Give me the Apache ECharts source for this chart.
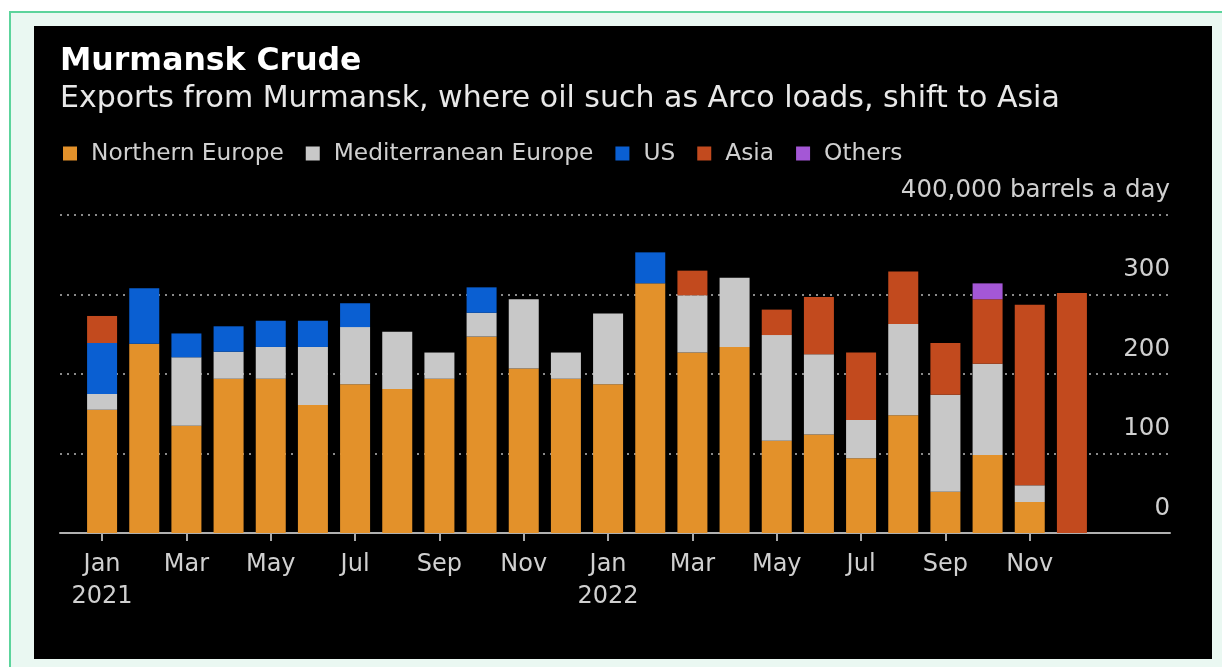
<!DOCTYPE html>
<html>
<head>
<meta charset="utf-8">
<script src="https://cdn.jsdelivr.net/npm/echarts@6/dist/echarts.min.js"></script>
<style>
  html, body { margin: 0; padding: 0; background: #ffffff; }
  .frame {
    position: absolute; left: 9px; top: 11px; width: 1211px; height: 654px;
    background: #eaf8f2; border-left: 2px solid #5cd49c; border-top: 2px solid #5cd49c;
  }
  #chart { position: absolute; left: 34px; top: 26px; width: 1178px; height: 633px; background: #000; }
</style>
</head>
<body>
<div class="frame"></div>
<div id="chart"></div>
<script>
const months = [
  'Jan\n2021', 'Feb', 'Mar', 'Apr', 'May', 'Jun', 'Jul', 'Aug', 'Sep', 'Oct', 'Nov', 'Dec',
  'Jan\n2022', 'Feb', 'Mar', 'Apr', 'May', 'Jun', 'Jul', 'Aug', 'Sep', 'Oct', 'Nov', 'Dec'
]
// thousand barrels a day
const northernEurope = [155, 238, 135, 194, 194, 161, 187, 181, 194, 247, 207, 194, 187, 314, 227, 234, 116, 124, 94, 148, 52, 98, 39, 0]
const medEurope = [20, 0, 86, 34, 40, 73, 72, 72, 33, 30, 87, 33, 89, 0, 72, 87, 133, 101, 48, 115, 122, 115, 21, 0]
const us = [64, 70, 30, 32, 33, 33, 30, 0, 0, 32, 0, 0, 0, 39, 0, 0, 0, 0, 0, 0, 0, 0, 0, 0]
const asia = [34, 0, 0, 0, 0, 0, 0, 0, 0, 0, 0, 0, 0, 0, 31, 0, 32, 72, 85, 66, 65, 81, 227, 302]
const others = [0, 0, 0, 0, 0, 0, 0, 0, 0, 0, 0, 0, 0, 0, 0, 0, 0, 0, 0, 0, 0, 20, 0, 0]
const yTicks = [0, 100, 200, 300, 400]

const font = 'DejaVu Sans'
const colors = {
  'Northern Europe': '#e3912a',
  'Mediterranean Europe': '#c8c8c8',
  'US': '#0a5fd2',
  'Asia': '#c24a1e',
  'Others': '#a457d6'
}

const chart = echarts.init(document.getElementById('chart'))

function barSeries(name, data) {
  return {
    name,
    type: 'bar',
    stack: 'total',
    xAxisIndex: 0,
    yAxisIndex: 0,
    barWidth: 30,
    data: data.map((v) => (v === 0 ? '-' : v)),
    itemStyle: { color: colors[name] }
  }
}

const option = {
  backgroundColor: '#000',
  animation: false,
  title: [
    {
      text: 'Murmansk Crude',
      left: 26, top: 20, padding: 0,
      textStyle: { fontFamily: font, fontSize: 31.5, fontWeight: 'bold', color: '#ffffff' }
    },
    {
      text: 'Exports from Murmansk, where oil such as Arco loads, shift to Asia',
      left: 26, top: 58, padding: 0,
      textStyle: { fontFamily: font, fontSize: 30, fontWeight: 'normal', color: '#e8e8e8' }
    }
  ],
  legend: {
    left: 29, top: 116, padding: 0,
    icon: 'rect', itemWidth: 14, itemHeight: 14, itemGap: 22,
    textStyle: { fontFamily: font, fontSize: 23.3, color: '#d0d0d0', padding: [0, 0, 0, 9] },
    data: Object.keys(colors)
  },
  grid: [
    { left: 47, right: 119, top: 189, bottom: 126 },
    { left: 26, right: 42, top: 189, bottom: 126 }
  ],
  xAxis: [
    {
      type: 'category', gridIndex: 0, data: months,
      axisLine: { show: false },
      axisTick: { show: true, alignWithLabel: true, interval: 1, length: 8, lineStyle: { color: '#aaaaaa', width: 2 } },
      axisLabel: { interval: 1, margin: 16, fontFamily: font, fontSize: 24, lineHeight: 32, color: '#d0d0d0' }
    },
    {
      type: 'value', gridIndex: 1, min: 0, max: 1,
      axisLine: { show: true, lineStyle: { color: '#b0b0b0', width: 2 } },
      axisTick: { show: false }, axisLabel: { show: false }, splitLine: { show: false }
    }
  ],
  yAxis: [
    { type: 'value', gridIndex: 0, min: 0, max: 400, show: false },
    {
      type: 'value', gridIndex: 1, position: 'right',
      min: yTicks[0], max: yTicks[yTicks.length - 1], interval: 100,
      axisLine: { show: false }, axisTick: { show: false },
      splitLine: { lineStyle: { color: '#8a8a8a', width: 2, type: [2, 5] } },
      axisLabel: {
        inside: true, margin: 0, verticalAlign: 'bottom', padding: [0, 0, 12, 0],
        fontFamily: font, fontSize: 24.5, color: '#d0d0d0',
        formatter: (v) => (v === 400 ? '400,000 barrels a day' : String(v))
      }
    }
  ],
  series: [
    barSeries('Northern Europe', northernEurope),
    barSeries('Mediterranean Europe', medEurope),
    barSeries('US', us),
    barSeries('Asia', asia),
    barSeries('Others', others)
  ]
}

chart.setOption(option)
</script>
</body>
</html>
